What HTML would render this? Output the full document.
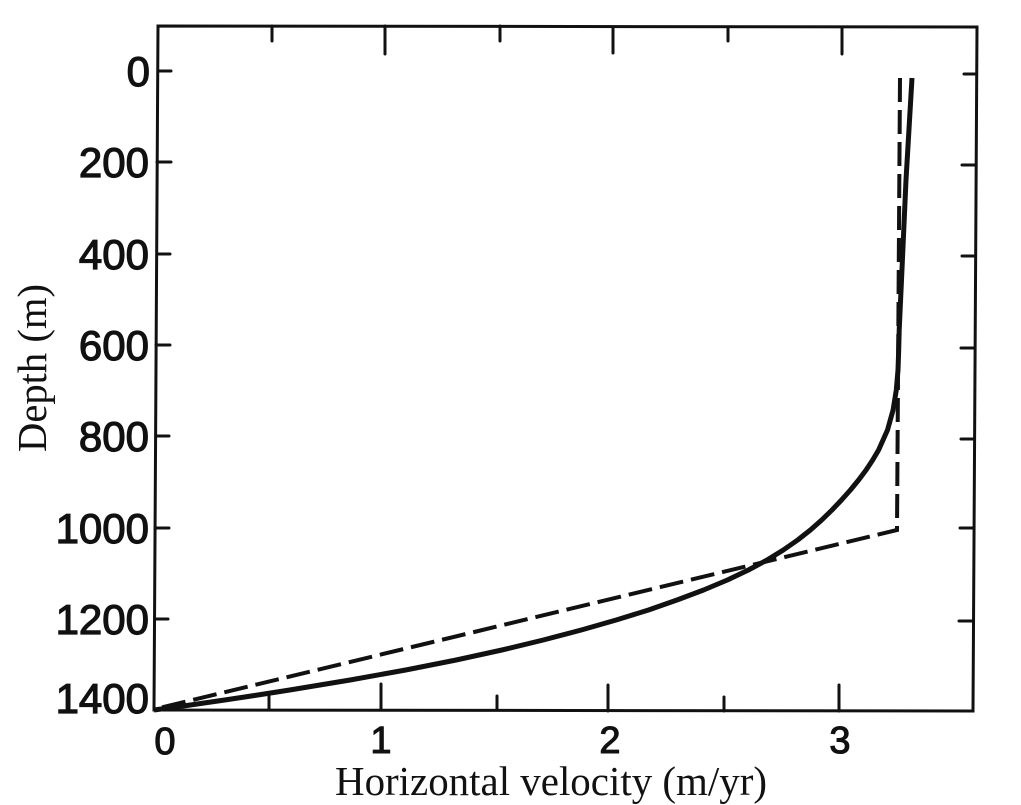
<!DOCTYPE html>
<html>
<head>
<meta charset="utf-8">
<style>
  html, body { margin: 0; padding: 0; background: #fff; }
  svg { display: block; }
</style>
</head>
<body>
<svg width="1021" height="805" viewBox="0 0 1021 805" xmlns="http://www.w3.org/2000/svg">
  <rect width="1021" height="805" fill="#fff"/>

  <!-- frame -->
  <path d="M158,26 L977,27 L973,711 L154,710 Z" fill="none" stroke="#111" stroke-width="3"/>

  <!-- left ticks -->
  <g stroke="#111" stroke-width="3" stroke-linecap="round">
    <line x1="158" y1="71" x2="171" y2="71"/>
    <line x1="157" y1="162" x2="171" y2="162"/>
    <line x1="157" y1="254" x2="170" y2="254"/>
    <line x1="156" y1="345" x2="170" y2="345"/>
    <line x1="156" y1="436" x2="169" y2="436"/>
    <line x1="155" y1="528" x2="169" y2="528"/>
    <line x1="155" y1="619" x2="168" y2="619"/>
  </g>
  <!-- right ticks -->
  <g stroke="#111" stroke-width="3" stroke-linecap="round">
    <line x1="976" y1="74" x2="964" y2="74"/>
    <line x1="976" y1="165" x2="962" y2="165"/>
    <line x1="975" y1="256" x2="962" y2="256"/>
    <line x1="975" y1="348" x2="961" y2="348"/>
    <line x1="974" y1="439" x2="961" y2="439"/>
    <line x1="974" y1="528" x2="960" y2="528"/>
    <line x1="973" y1="621" x2="959" y2="621"/>
  </g>
  <!-- bottom ticks -->
  <g stroke="#111" stroke-width="3" stroke-linecap="round">
    <line x1="269" y1="710" x2="269" y2="696"/>
    <line x1="381" y1="710" x2="381" y2="684"/>
    <line x1="497" y1="710" x2="497" y2="696"/>
    <line x1="608" y1="711" x2="608" y2="685"/>
    <line x1="724" y1="711" x2="724" y2="697"/>
    <line x1="839" y1="711" x2="839" y2="685"/>
  </g>
  <!-- top ticks -->
  <g stroke="#111" stroke-width="3" stroke-linecap="round">
    <line x1="272" y1="26" x2="272" y2="41"/>
    <line x1="385" y1="26" x2="385" y2="54"/>
    <line x1="500" y1="26" x2="500" y2="41"/>
    <line x1="613" y1="27" x2="613" y2="53"/>
    <line x1="728" y1="27" x2="728" y2="41"/>
    <line x1="842" y1="27" x2="842" y2="54"/>
  </g>

  <!-- y tick labels -->
  <g font-family="'Liberation Sans', sans-serif" font-size="42" fill="#111" stroke="#111" stroke-width="1.2" text-anchor="end">
    <text x="150" y="86">0</text>
    <text x="149" y="177">200</text>
    <text x="149" y="269">400</text>
    <text x="149" y="360">600</text>
    <text x="149" y="451">800</text>
    <text x="149" y="543">1000</text>
    <text x="149" y="634">1200</text>
    <text x="149" y="713">1400</text>
  </g>

  <!-- x tick labels -->
  <g font-family="'Liberation Sans', sans-serif" font-size="38" fill="#111" stroke="#111" stroke-width="1.1" text-anchor="middle">
    <text x="165" y="754">0</text>
    <text x="381" y="753">1</text>
    <text x="610" y="753">2</text>
    <text x="840" y="753">3</text>
  </g>

  <!-- axis titles -->
  <text x="335" y="795" font-family="'Liberation Serif', serif" font-size="41" fill="#111" textLength="432" lengthAdjust="spacingAndGlyphs">Horizontal velocity (m/yr)</text>
  <text transform="translate(46,452) rotate(-90)" font-family="'Liberation Serif', serif" font-size="41" fill="#111" textLength="168" lengthAdjust="spacingAndGlyphs">Depth (m)</text>

  <!-- dashed series -->
  <path d="M900,78 L897,530 L155,709" fill="none" stroke="#111" stroke-width="4" stroke-dasharray="24 8" stroke-linejoin="miter"/>

  <!-- solid series -->
  <polyline points="154,710 190.4,705 224.7,700 257.8,695 289.7,690 350.1,680 405.7,670 456.2,660 501.9,650 543.3,640 581.3,630 616.2,620 648.5,610 677,600 703.6,590 727.4,580 748.4,570 767.1,560 783.3,550 797.7,540 810.4,530 821.7,520 832,510 841.5,500 850.4,490 858.6,480 866.1,470 872.7,460 878.6,450 887.5,430 893.1,410 896.3,390 898,370 898.7,350 899.2,330 901.5,280 906,180 912,78"
    fill="none" stroke="#111" stroke-width="5" stroke-linecap="butt" stroke-linejoin="round"/>
</svg>
</body>
</html>
